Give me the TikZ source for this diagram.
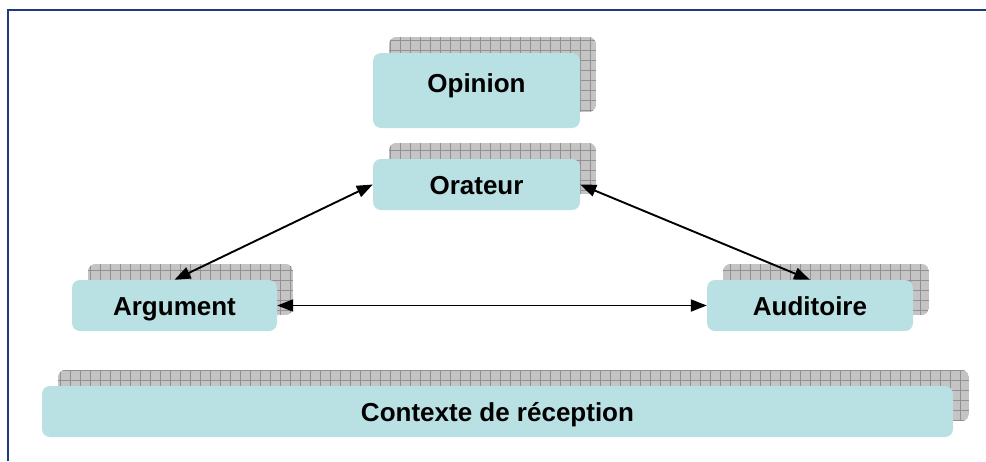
\documentclass[tikz,border=0pt]{standalone}
\usepackage{fontspec}
\setmainfont{Liberation Sans}
\usetikzlibrary{arrows.meta,calc,backgrounds}

\definecolor{boxfill}{RGB}{185,224,227}
\definecolor{shadefill}{RGB}{196,196,196}
\definecolor{shadegrid}{RGB}{145,145,145}
\definecolor{framecol}{RGB}{30,58,120}

\tikzset{
  card/.style={rounded corners=8pt, fill=boxfill, inner sep=0pt,
    font=\fontsize{26}{30}\selectfont\bfseries,
    text height=19pt, text depth=0pt},
  link/.style={line width=1.9pt, {Triangle[length=16pt,width=12pt]}-{Triangle[length=16pt,width=12pt]}},
  frameline/.style={draw=framecol, line width=1.6pt},
}

% grey hatched card lying behind a front card, shifted up and to the right
\newcommand{\backcard}[1]{%
  \begin{scope}
    \clip[rounded corners=8pt] ($(#1.south west)+(16,-16)$) rectangle ($(#1.north east)+(16,-16)$);
    \fill[shadefill] ($(#1.south west)+(16,-16)$) rectangle ($(#1.north east)+(16,-16)$);
    \draw[shadegrid, line width=0.7pt, step=10pt] ($(#1.south west)+(16,-16)$) grid ($(#1.north east)+(16,-16)$);
  \end{scope}}

\begin{document}
\begin{tikzpicture}[x=1pt, y=-1pt]
  \useasboundingbox (0,0) rectangle (986,461);

  % outer frame (top and left edges)
  \draw[frameline] (8,461) -- (8,10) -- (986,10);

  % front cards
  \node[card, minimum width=207pt, minimum height=75pt, text depth=16pt] (opinion) at (476.5,90.5) {Opinion};
  \node[card, minimum width=207pt, minimum height=51pt] (orateur) at (476.5,184.5) {Orateur};
  \node[card, minimum width=205pt, minimum height=51pt] (argument) at (174.5,305.5) {Argument};
  \node[card, minimum width=206pt, minimum height=51pt] (auditoire) at (810,305.5) {Auditoire};
  \node[card, minimum width=911pt, minimum height=51pt] (contexte) at (497.5,411.5) {Contexte de réception};

  % grey cards behind
  \begin{scope}[on background layer]
    \backcard{opinion}
    \backcard{orateur}
    \backcard{argument}
    \backcard{auditoire}
    \backcard{contexte}
  \end{scope}

  % relations
  \draw[link] (orateur.west) -- (argument.north);
  \draw[link] (orateur.east) -- (auditoire.north);
  \draw[link] (argument.east) -- (auditoire.west);
\end{tikzpicture}
\end{document}
